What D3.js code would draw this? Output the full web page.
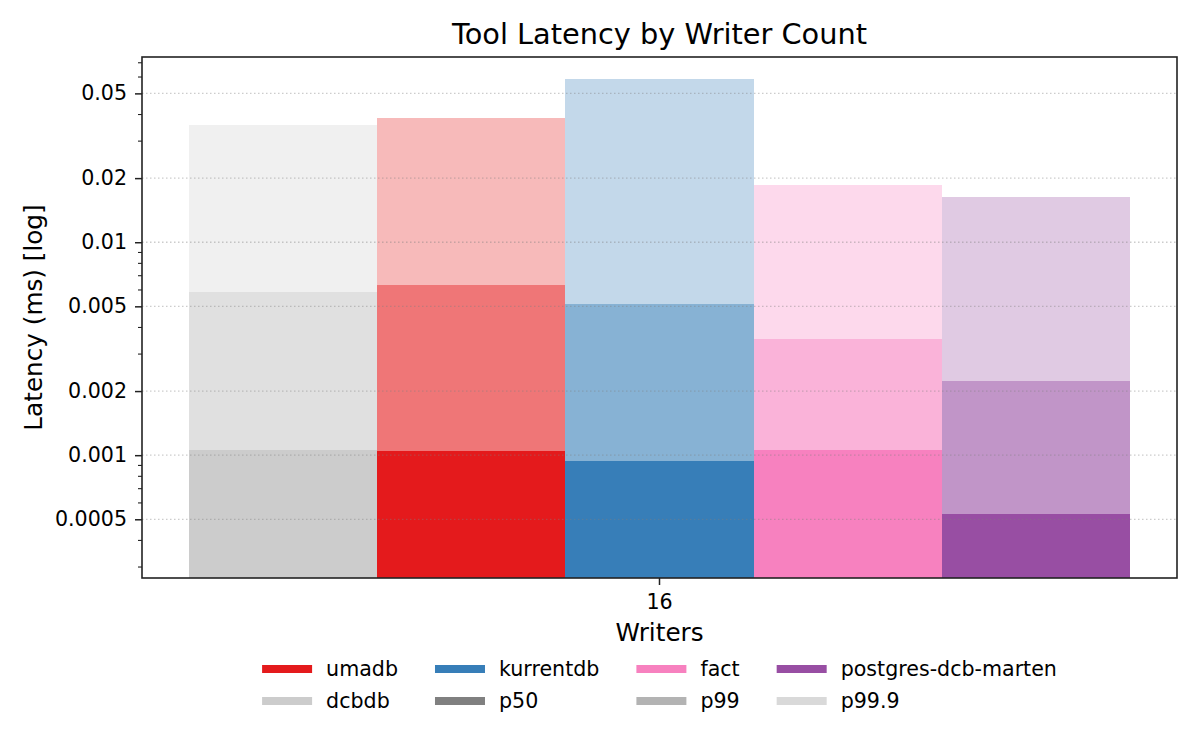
<!DOCTYPE html>
<html>
<head>
<meta charset="utf-8">
<script src="https://cdn.jsdelivr.net/npm/d3@7"></script>
<style>
  body { margin: 0; background: #fff; }
  text { font-family: "DejaVu Sans", sans-serif; fill: #000; }
</style>
</head>
<body>
<div id="chart"></div>
<script>
// data
const writerCounts = ["16"];
const systems = ["dcbdb", "umadb", "kurrentdb", "fact", "postgres-dcb-marten"];
const systemColors = ["#cccccc", "#e41a1c", "#377eb8", "#f781bf", "#984ea3"];
const p50 = [0.00106, 0.00105, 0.000944, 0.00106, 0.000527];
const p99 = [0.00585, 0.00631, 0.00514, 0.00352, 0.00224];
const p999 = [0.0355, 0.0382, 0.0582, 0.0186, 0.0163];
const percentiles = ["p50", "p99", "p99.9"];
const percentileOpacity = [1, 0.6, 0.3];
const majorTicks = [0.0005, 0.001, 0.002, 0.005, 0.01, 0.02, 0.05];
const legendOrder = ["umadb", "kurrentdb", "fact", "postgres-dcb-marten", "dcbdb", "p50", "p99", "p99.9"];

const width = 1200;
const height = 750;
const margin = { top: 57, right: 23, bottom: 172, left: 142 };
const innerW = width - margin.left - margin.right;
const innerH = height - margin.top - margin.bottom;

const svg = d3
  .select("#chart")
  .append("svg")
  .attr("width", width)
  .attr("height", height);

const g = svg.append("g").attr("transform", `translate(${margin.left},${margin.top})`);

const x = d3.scaleBand().domain(writerCounts).range([0, innerW]).paddingInner(0).paddingOuter(0.05);
const xs = d3.scaleBand().domain(systems).range([0, x.bandwidth()]);
const y = d3.scaleLog().domain([0.000265, 0.0741]).range([innerH, 0]);

// stacked segments: [bottom, p50], [p50, p99], [p99, p99.9]
const segments = [];
systems.forEach((s, i) => {
  const levels = [y.domain()[0], p50[i], p99[i], p999[i]];
  percentiles.forEach((p, j) => {
    segments.push({ sys: s, color: systemColors[i], op: percentileOpacity[j], lo: levels[j], hi: levels[j + 1] });
  });
});

g.selectAll("rect.seg")
  .data(segments)
  .join("rect")
  .attr("class", "seg")
  .attr("x", (d) => x("16") + xs(d.sys))
  .attr("width", xs.bandwidth())
  .attr("y", (d) => y(d.hi))
  .attr("height", (d) => y(d.lo) - y(d.hi))
  .attr("fill", (d) => d.color)
  .attr("fill-opacity", (d) => d.op)
  .attr("shape-rendering", "crispEdges");

// grid on top of bars
g.selectAll("line.grid")
  .data(majorTicks)
  .join("line")
  .attr("class", "grid")
  .attr("x1", 0)
  .attr("x2", innerW)
  .attr("y1", (d) => y(d))
  .attr("y2", (d) => y(d))
  .attr("stroke", "#808080")
  .attr("stroke-opacity", 0.4)
  .attr("stroke-width", 1.3)
  .attr("stroke-dasharray", "1.5,2.5");

// y axis: major + minor ticks
const minorTicks = y.ticks().filter((t) => !majorTicks.some((m) => Math.abs(m - t) / m < 1e-6));
const yMinor = g.append("g").call(d3.axisLeft(y).tickValues(minorTicks).tickSize(4).tickFormat(""));
yMinor.select(".domain").remove();
yMinor.selectAll("line").attr("stroke", "#222").attr("stroke-width", 1.1);

const yAxis = g.append("g").call(
  d3.axisLeft(y).tickValues(majorTicks).tickSize(7).tickPadding(8).tickFormat((d) => String(d))
);
yAxis.select(".domain").remove();
yAxis.selectAll("line").attr("stroke", "#222").attr("stroke-width", 1.5);
yAxis.selectAll("text").attr("font-size", 20.6).attr("font-family", "DejaVu Sans");

const xAxis = g
  .append("g")
  .attr("transform", `translate(0,${innerH})`)
  .call(d3.axisBottom(x).tickSize(7).tickPadding(9));
xAxis.select(".domain").remove();
xAxis.selectAll("line").attr("stroke", "#222").attr("stroke-width", 1.5);
xAxis.selectAll("text").attr("font-size", 20.6).attr("font-family", "DejaVu Sans");

// frame
g.append("rect")
  .attr("width", innerW)
  .attr("height", innerH)
  .attr("fill", "none")
  .attr("stroke", "#222")
  .attr("stroke-width", 1.6);

// titles
svg.append("text")
  .attr("x", margin.left + innerW / 2)
  .attr("y", 44)
  .attr("text-anchor", "middle")
  .attr("font-size", 28.8)
  .text("Tool Latency by Writer Count");

svg.append("text")
  .attr("x", margin.left + innerW / 2)
  .attr("y", 641)
  .attr("text-anchor", "middle")
  .attr("font-size", 24.7)
  .text("Writers");

svg.append("text")
  .attr("transform", `translate(42,${margin.top + innerH / 2}) rotate(-90)`)
  .attr("text-anchor", "middle")
  .attr("font-size", 24.7)
  .text("Latency (ms) [log]");

// legend
const legendItems = legendOrder.map((name) => {
  const si = systems.indexOf(name);
  if (si >= 0) return { name, color: systemColors[si], op: 1 };
  const pi = percentiles.indexOf(name);
  return { name, color: "#808080", op: percentileOpacity[pi] };
});

const ncol = 4;
const handleW = 50;
const handleH = 8;
const textPad = 14;
const colGap = 37;
const rowY = [669, 701];

const legend = svg.append("g");
const items = legend
  .selectAll("g")
  .data(legendItems)
  .join("g");

items.append("rect")
  .attr("x", 0)
  .attr("y", -handleH / 2)
  .attr("width", handleW)
  .attr("height", handleH)
  .attr("fill", (d) => d.color)
  .attr("fill-opacity", (d) => d.op);

items.append("text")
  .attr("x", handleW + textPad)
  .attr("dy", "0.35em")
  .attr("font-size", 20.6)
  .text((d) => d.name);

const textW = [];
items.select("text").each(function () {
  textW.push(this.getComputedTextLength());
});
const colW = d3.range(ncol).map((c) => {
  const idx = [c, c + ncol].filter((i) => i < legendItems.length);
  return handleW + textPad + d3.max(idx, (i) => textW[i]);
});
const totalW = d3.sum(colW) + colGap * (ncol - 1);
const colX = [];
let cx = margin.left + innerW / 2 - totalW / 2;
colW.forEach((w) => {
  colX.push(cx);
  cx += w + colGap;
});

items.attr("transform", (d, i) => `translate(${colX[i % ncol]},${rowY[Math.floor(i / ncol)]})`);
</script>
</body>
</html>
